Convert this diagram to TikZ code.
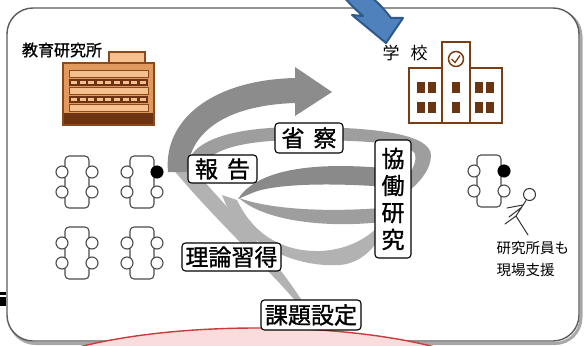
\documentclass[tikz,border=0pt]{standalone}
\usepackage{fontspec}
\newfontfamily\jp{Noto Sans CJK JP}
\newfontfamily\jpb[FakeBold=1.2]{Noto Sans CJK JP}
\definecolor{frameline}{HTML}{5C5C5C}
\definecolor{frameshadow}{HTML}{A8A8A8}
\definecolor{instbody}{HTML}{E09A5E}
\definecolor{instlight}{HTML}{F5C08E}
\definecolor{instdark}{HTML}{6E3312}
\definecolor{instline}{HTML}{8A4A1E}
\definecolor{schoolline}{HTML}{7A3D14}
\definecolor{winbrown}{HTML}{6B3413}
\definecolor{tableline}{HTML}{4A4A4A}
\definecolor{spiralA}{HTML}{8C8C8C}
\definecolor{spiralD}{HTML}{8A8A8A}
\definecolor{spiralM}{HTML}{9E9E9E}
\definecolor{spiralL}{HTML}{B2B2B2}
\definecolor{redline}{HTML}{C83C3C}
\definecolor{pinkfill}{HTML}{FBDCDC}
\definecolor{bluefill}{HTML}{4F81BD}
\definecolor{blueedge}{HTML}{2E5A8A}
\tikzset{
  lbl/.style={draw=black, line width=1.1pt, fill=white, rounded corners=3.5pt,
    inner sep=0pt, font=\jpb\fontsize{23}{23}\selectfont},
  chair/.style={draw=tableline, fill=white, line width=1.1pt},
  mtable/.pic={
    \draw[tableline, line width=1.1pt, rounded corners=4pt, fill=white] (-12,-26) rectangle (12,26);
    \foreach \sx in {-15,15} \foreach \sy in {-10,10} \draw[chair] (\sx,\sy) circle[radius=6];
  },
  win/.style={fill=winbrown},
  school/.style={draw=schoolline, line width=2.8pt, fill=white}
}
\begin{document}
\begin{tikzpicture}[x=1pt,y=-1pt]
\useasboundingbox (0,0) rectangle (588,345);
\fill[white] (0,0) rectangle (588,345);

% outer panel with soft shadow
\draw[frameshadow, line width=3pt, rounded corners=26pt] (9.5,10.5) rectangle (581,343.5);
\draw[frameline, line width=1.4pt, fill=white, rounded corners=26pt] (7,8) rectangle (579,341);

% research institute building
\node[font=\jpb\fontsize{16}{16}\selectfont] (instname) at (62,50) {教育研究所};
\draw[instline, line width=1.5pt, fill=instlight] (109,52) rectangle (145,63);
\draw[instline, line width=1.5pt, fill=instbody] (63,63) rectangle (154,125);
\foreach \y in {70,87,104}
  \draw[instline, line width=0.8pt, fill=instlight] (69,\y) rectangle (148,\y+7);
\foreach \y in {79,96} {
  \fill[instdark] (69,\y) rectangle (148,\y+6.5);
  \foreach \i in {0,...,8}
    \fill[instlight] (71+\i*8.6,\y+1.5) rectangle ++(6,3.5);
}
\fill[instdark] (64,113) rectangle (153,124);

% school building
\node[font=\jp\fontsize{17}{17}\selectfont] (schoolname) at (405,53) {学\hspace{11pt}校};
\draw[school] (409,68) rectangle (442,123);
\draw[school] (470,68) rectangle (502,123);
\draw[school] (442,42) rectangle (470,123);
\draw[schoolline, line width=1.5pt] (456,59) circle[radius=7.5];
\draw[schoolline, line width=1.3pt] (451.5,59) -- (455,62.5) -- (460,55.5);
\foreach \y in {82,102} {
  \foreach \x in {417,428,452,475,486}
    \fill[win] (\x,\y) rectangle ++(8,11);
}

% meeting tables
\pic at (77,182) {mtable};
\pic at (142,182) {mtable};
\pic at (77,253) {mtable};
\pic at (142,253) {mtable};
\pic at (489,181) {mtable};
\fill[black] (157,172) circle[radius=6.3];
\fill[black] (504,171) circle[radius=6.3];

% staff member heading to the school table
\draw[black!80, line width=1pt] (529.5,194.5) circle[radius=6];
\draw[black!80, line width=1pt, line cap=round]
  (526,200.5) -- (516,216)
  (523,205) -- (507,208)
  (522,207) -- (509,217)
  (516,216) -- (505,224)
  (516,216) -- (528,235);
\node[font=\jp\fontsize{14.5}{14.5}\selectfont, anchor=west] (staff1) at (493,248) {研究所員も};
\node[font=\jp\fontsize{14.5}{14.5}\selectfont, anchor=west] (staff2) at (493,270) {現場支援};

% spiral of the research cycle
\fill[spiralL] (172,168) .. controls (215,220) and (268,268) .. (298,304)
  -- (304,304) .. controls (278,262) and (232,212) .. (190,166) -- cycle;
\fill[spiralL] (222,195) .. controls (238,240) and (290,268) .. (340,265)
  .. controls (360,263) and (373,250) .. (381,235)
  -- (381,224) .. controls (366,240) and (345,250) .. (320,251)
  .. controls (280,252) and (252,232) .. (237,200) -- cycle;
\fill[spiralM] (239,198) .. controls (265,222) and (330,228) .. (381,222)
  -- (381,208) .. controls (330,212) and (272,210) .. (239,198) -- cycle;
\fill[spiralM] (186,170) .. controls (188,140) and (232,127) .. (300,127)
  .. controls (380,127) and (430,135) .. (431,155)
  .. controls (431,168) and (422,180) .. (410,190)
  -- (403,181) .. controls (412,172) and (417,162) .. (415,154)
  .. controls (411,144) and (370,140) .. (300,140)
  .. controls (242,140) and (206,150) .. (201,170) -- cycle;
\fill[spiralA] (168,172) .. controls (163,120) and (212,80) .. (295,78)
  -- (295,67) -- (332,92) -- (295,116) -- (295,103)
  .. controls (232,105) and (190,128) .. (187,172) -- cycle;
\fill[spiralD] (411,171) .. controls (340,162) and (262,162) .. (238,199)
  -- (252,193) .. controls (275,183) and (340,182) .. (411,189) -- cycle;

% goal area
\draw[redline, line width=1.4pt, fill=pinkfill] (257,392) ellipse[x radius=250, y radius=64];

% stage labels
\node[lbl, minimum width=69pt, minimum height=28pt] (report) at (222.5,169) {報\hspace{9pt}告};
\node[lbl, minimum width=68pt, minimum height=30pt] (reflect) at (309,138) {省\hspace{9pt}察};
\node[lbl, minimum width=36pt, minimum height=118pt, align=center,
  font=\jpb\fontsize{23}{27}\selectfont] (collab) at (393,199) {協\\働\\研\\究};
\node[lbl, minimum width=99pt, minimum height=28pt] (theory) at (231.5,257) {理論習得};
\node[lbl, minimum width=100pt, minimum height=30pt] (task) at (311,315) {課題設定};

% incoming arrow toward the school
\draw[blueedge, line width=2pt, fill=bluefill, line join=round]
  (343,-4) .. controls (350,4) and (356,10) .. (363,16) -- (352,15) -- (386,43)
  -- (403,18) -- (391,18) .. controls (384,9) and (377,1) .. (369,-4) -- cycle;

% edge mark on the left border
\fill[black] (0,292) rectangle (6,294.5);
\fill[black] (0,297) rectangle (6,306);
\end{tikzpicture}
\end{document}
